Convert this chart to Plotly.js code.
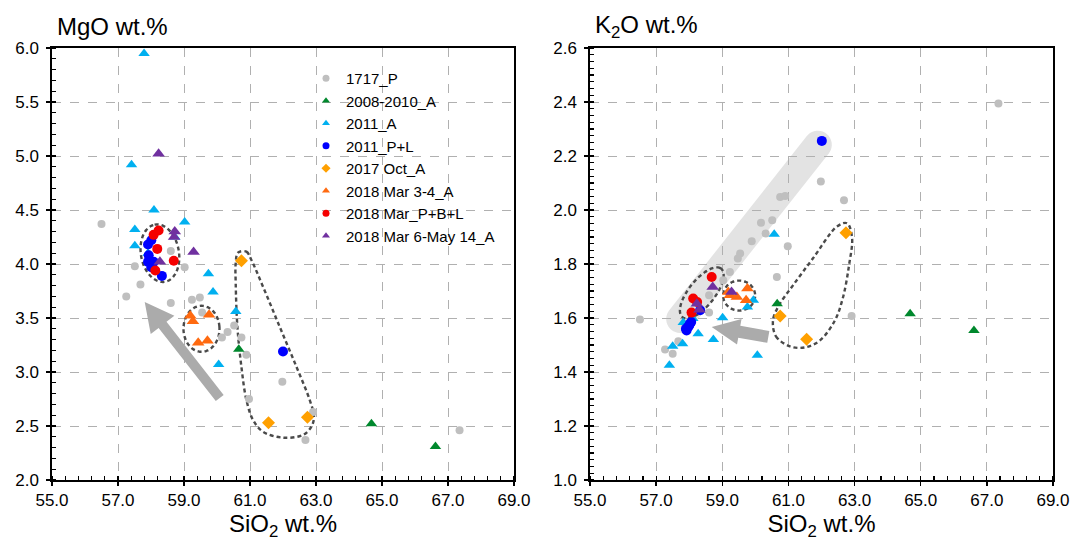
<!DOCTYPE html>
<html>
<head>
<meta charset="utf-8">
<script src="https://cdn.plot.ly/plotly-3.0.1.min.js"></script>
<style>html,body{margin:0;padding:0;background:#fff;}#chart{width:1070px;height:548px;}</style>
</head>
<body>
<div id="chart"></div>
<script>
// ---------- Series names ----------
const seriesNames = ['1717_P','2008-2010_A','2011_A','2011_P+L','2017 Oct_A','2018 Mar 3-4_A','2018 Mar_P+B+L','2018 Mar 6-May 14_A'];

// ---------- Left panel: MgO vs SiO2 ----------
const p1717_si_mgo = [56.50,57.25,57.51,57.68,58.60,58.60,59.02,59.24,59.48,59.55,60.15,60.32,60.52,60.74,60.89,60.97,61.98,62.68,62.91,67.35];
const p1717_mgo    = [4.37,3.70,3.98,3.81,4.12,3.64,3.97,3.67,3.69,3.55,3.32,3.37,3.43,3.32,3.16,2.75,2.91,2.37,2.63,2.46];
const a0810_si_mgo = [60.66,64.68,66.62];
const a0810_mgo    = [3.21,2.52,2.31];
const a2011_si_mgo = [57.79,57.41,58.09,59.02,57.51,57.51,57.91,58.72,59.74,59.88,60.57,60.05];
const a2011_mgo    = [5.95,4.92,4.50,4.39,4.32,4.17,4.10,4.25,3.91,3.74,3.56,3.07];
const pl2011_si_mgo = [58.01,57.91,57.93,57.91,58.08,58.01,58.33,62.00];
const pl2011_mgo    = [4.22,4.18,4.08,4.02,4.02,3.97,3.89,3.19];
const oct17_si_mgo = [60.74,61.56,62.74];
const oct17_mgo    = [4.03,2.53,2.58];
const mar34_si_mgo = [59.19,59.27,59.76,59.43,59.71];
const mar34_mgo    = [3.52,3.47,3.53,3.27,3.29];
const marPBL_si_mgo = [58.23,58.08,58.19,58.69,58.13];
const marPBL_mgo    = [4.31,4.27,4.14,4.03,3.94];
const mar6may_si_mgo = [58.23,58.72,58.70,59.29,58.27];
const mar6may_mgo    = [5.02,4.30,4.25,4.11,4.02];

// ---------- Right panel: K2O vs SiO2 ----------
const p1717_si_k2o = [56.51,57.27,57.50,57.67,58.60,58.60,59.03,59.23,59.47,59.54,59.89,60.17,60.31,60.51,60.65,60.75,60.90,60.98,61.98,62.68,62.91,67.35];
const p1717_k2o    = [1.594,1.483,1.468,1.514,1.620,1.684,1.740,1.770,1.820,1.839,1.884,1.953,1.913,1.962,1.752,2.048,2.052,1.866,2.106,2.036,1.607,2.394];
const a0810_si_k2o = [60.66,64.68,66.61];
const a0810_k2o    = [1.653,1.616,1.554];
const a2011_si_k2o = [60.57,59.01,58.27,58.73,57.80,57.50,57.40,60.06,59.76,59.94,57.82,58.11];
const a2011_k2o    = [1.910,1.601,1.542,1.520,1.505,1.495,1.425,1.462,1.641,1.666,1.583,1.598];
const pl2011_si_k2o = [57.92,57.97,58.02,57.90,58.06,58.00,58.33,62.01];
const pl2011_k2o    = [1.554,1.567,1.579,1.560,1.585,1.572,1.629,2.256];
const oct17_si_k2o = [60.75,61.55,62.74];
const oct17_k2o    = [1.607,1.521,1.916];
const mar34_si_k2o = [59.18,59.23,59.44,59.76,59.72];
const mar34_k2o    = [1.696,1.684,1.678,1.709,1.666];
const marPBL_si_k2o = [58.68,58.12,58.24,58.07];
const marPBL_k2o    = [1.752,1.672,1.659,1.620];
const mar6may_si_k2o = [58.71,59.28,58.23,58.31];
const mar6may_k2o    = [1.715,1.696,1.653,1.631];

// ---------- Hand-drawn outlines (data units) ----------
const loopL_x = [60.636,60.891,61.042,61.394,61.900,62.406,62.809,62.939,62.861,62.606,62.000,61.394,61.091,60.891,60.739,60.618,60.567,60.567,60.636];
const loopL_y = [4.105,4.114,4.037,3.790,3.419,3.049,2.741,2.586,2.494,2.417,2.392,2.447,2.556,2.741,3.049,3.419,3.821,4.006,4.105];
const loopR_x = [60.534,60.624,61.048,61.502,61.955,62.409,62.651,62.832,62.923,62.772,62.469,61.743,61.138,60.715,60.534];
const loopR_y = [1.592,1.532,1.495,1.491,1.517,1.592,1.677,1.795,1.899,1.951,1.939,1.821,1.721,1.647,1.592];

// ---------- Geometry helpers ----------
const W = 1070, H = 548, MT = 48, MB = 68;
const dom1 = [52/W, 514/W], dom2 = [590/W, 1053/W];
const rX1 = [55,69], rY1 = [2,6], rX2 = [55,69], rY2 = [1,2.6];
const plotH = H - MT - MB;
const sx1 = (dom1[1]-dom1[0])*W/(rX1[1]-rX1[0]), sy1 = plotH/(rY1[1]-rY1[0]);
const sx2 = (dom2[1]-dom2[0])*W/(rX2[1]-rX2[0]), sy2 = plotH/(rY2[1]-rY2[0]);

function ellipse(cx, cy, a, b, angDeg, sx, sy){
  const t = angDeg*Math.PI/180, xs=[], ys=[];
  for(let i=0;i<=72;i++){
    const u = i/72*2*Math.PI;
    const dx = a*Math.cos(u), dy = b*Math.sin(u);
    xs.push(cx + (dx*Math.cos(t) - dy*Math.sin(t))/sx);
    ys.push(cy + (dx*Math.sin(t) + dy*Math.cos(t))/sy);
  }
  return {x:xs, y:ys};
}
function stadiumPath(cx, cy, halfLen, r, angDeg, sx, sy){
  const t = angDeg*Math.PI/180, L = halfLen - r;
  const ux = Math.cos(t), uy = Math.sin(t), nx = -uy, ny = ux;
  const pts = [];
  for(let i=0;i<=20;i++){ const a = -Math.PI/2 + Math.PI*i/20;
    pts.push([L*ux + r*(Math.cos(a)*ux + Math.sin(a)*nx), L*uy + r*(Math.cos(a)*uy + Math.sin(a)*ny)]); }
  for(let i=0;i<=20;i++){ const a = Math.PI/2 + Math.PI*i/20;
    pts.push([-L*ux + r*(Math.cos(a)*ux + Math.sin(a)*nx), -L*uy + r*(Math.cos(a)*uy + Math.sin(a)*ny)]); }
  return 'M' + pts.map(p => (cx + p[0]/sx).toFixed(4) + ',' + (cy + p[1]/sy).toFixed(4)).join(' L') + ' Z';
}
function arrowPath(tail, tip, shaftHalf, headLen, headHalf, sx, sy){
  const tx = tail[0]*sx, ty = tail[1]*sy, px = tip[0]*sx, py = tip[1]*sy;
  const dx = px - tx, dy = py - ty, len = Math.hypot(dx, dy);
  const ux = dx/len, uy = dy/len, nx = -uy, ny = ux;
  const bx = px - headLen*ux, by = py - headLen*uy;
  const P = [[tx+shaftHalf*nx, ty+shaftHalf*ny],[bx+shaftHalf*nx, by+shaftHalf*ny],[bx+headHalf*nx, by+headHalf*ny],[px,py],
             [bx-headHalf*nx, by-headHalf*ny],[bx-shaftHalf*nx, by-shaftHalf*ny],[tx-shaftHalf*nx, ty-shaftHalf*ny]];
  return 'M' + P.map(p => (p[0]/sx).toFixed(4) + ',' + (p[1]/sy).toFixed(4)).join(' L') + ' Z';
}

// ---------- Styles ----------
const styles = [
  {color:'#bfbfbf', symbol:'circle', size:8},
  {color:'#00882d', symbol:'triangle-up', size:10},
  {color:'#00b0f0', symbol:'triangle-up', size:10},
  {color:'#0000ff', symbol:'circle', size:10},
  {color:'#ffa000', symbol:'diamond', size:10},
  {color:'#ff6a10', symbol:'triangle-up', size:11},
  {color:'#f50000', symbol:'circle', size:10},
  {color:'#7030a0', symbol:'triangle-up', size:11}
];

const leftData = [[p1717_si_mgo,p1717_mgo],[a0810_si_mgo,a0810_mgo],[a2011_si_mgo,a2011_mgo],[pl2011_si_mgo,pl2011_mgo],
                  [oct17_si_mgo,oct17_mgo],[mar34_si_mgo,mar34_mgo],[marPBL_si_mgo,marPBL_mgo],[mar6may_si_mgo,mar6may_mgo]];
const rightData = [[p1717_si_k2o,p1717_k2o],[a0810_si_k2o,a0810_k2o],[a2011_si_k2o,a2011_k2o],[pl2011_si_k2o,pl2011_k2o],
                  [oct17_si_k2o,oct17_k2o],[mar34_si_k2o,mar34_k2o],[marPBL_si_k2o,marPBL_k2o],[mar6may_si_k2o,mar6may_k2o]];

const outline = {color:'#4a4a4a', width:2.4, dash:'4px,3px'};
const traces = [];
const eL1 = ellipse(58.27, 4.10, 29, 19, 100, sx1, sy1);
const eL2 = ellipse(59.53, 3.40, 18, 23, 0, sx1, sy1);
const eR1 = ellipse(58.38, 1.693, 31, 13, 51.3, sx2, sy2);
const eR2 = ellipse(59.51, 1.683, 16, 15, 0, sx2, sy2);
[[eL1,'x','y'],[eL2,'x','y'],[{x:loopL_x,y:loopL_y},'x','y'],[eR1,'x2','y2'],[eR2,'x2','y2'],[{x:loopR_x,y:loopR_y},'x2','y2']].forEach(o=>{
  traces.push({type:'scatter', mode:'lines', x:o[0].x, y:o[0].y, xaxis:o[1], yaxis:o[2],
    line:Object.assign({shape:'spline', smoothing:1}, outline), showlegend:false, hoverinfo:'skip'});
});
seriesNames.forEach((name,i)=>{
  const s = styles[i];
  traces.push({type:'scatter', mode:'markers', name:name, x:leftData[i][0], y:leftData[i][1], xaxis:'x', yaxis:'y',
    marker:{color:s.color, symbol:s.symbol, size:s.size, line:{width:0}}, showlegend:false});
  traces.push({type:'scatter', mode:'markers', name:name, x:rightData[i][0], y:rightData[i][1], xaxis:'x2', yaxis:'y2',
    marker:{color:s.color, symbol:s.symbol, size:s.size, line:{width:0}}, showlegend:false});
});
seriesNames.forEach((name,i)=>{
  const s = styles[i];
  traces.push({type:'scatter', mode:'markers', name:name, x:[null], y:[null], xaxis:'x', yaxis:'y',
    marker:{color:s.color, symbol:s.symbol, size:7}, showlegend:true});
});

const font = 'Liberation Sans, Arial, Helvetica, sans-serif';
function xAx(domain, anchor){
  return {domain:domain, anchor:anchor, range:[55,69], tick0:55, dtick:2, tickformat:'.1f',
    showgrid:true, gridcolor:'#b0b0b0', griddash:'dash', gridwidth:1, zeroline:false,
    showline:true, mirror:true, linecolor:'#000', linewidth:1.6,
    ticks:'outside', ticklen:4, tickwidth:1.4, tickcolor:'#000', tickfont:{size:17, color:'#000'},
    ticklabeloverflow:'allow',
    minor:{tick0:55, dtick:0.4, ticks:'inside', ticklen:4, tickwidth:1.2, tickcolor:'#000', showgrid:false},
    title:{text:'SiO<sub>2</sub> wt.%', font:{size:24, color:'#000'}, standoff:6}, fixedrange:true};
}
function yAx(range, dtick, minor, anchor){
  return {domain:[0,1], anchor:anchor, range:range, tick0:range[0], dtick:dtick, tickformat:'.1f',
    showgrid:true, gridcolor:'#b0b0b0', griddash:'dash', gridwidth:1, zeroline:false,
    showline:true, mirror:true, linecolor:'#000', linewidth:1.6,
    ticks:'outside', ticklen:4, tickwidth:1.4, tickcolor:'#000', tickfont:{size:17, color:'#000'}, ticklabelstandoff:4,
    ticklabeloverflow:'allow',
    minor:{tick0:range[0], dtick:minor, ticks:'inside', ticklen:4, tickwidth:1.2, tickcolor:'#000', showgrid:false}, fixedrange:true};
}

const layout = {
  width:W, height:H, margin:{l:0, r:0, t:MT, b:MB, pad:0},
  paper_bgcolor:'#fff', plot_bgcolor:'#fff',
  font:{family:font, color:'#000'},
  xaxis: xAx(dom1,'y'), yaxis: yAx(rY1, 0.5, 0.1, 'x'),
  xaxis2: xAx(dom2,'y2'), yaxis2: yAx(rY2, 0.2, 0.025, 'x2'),
  showlegend:true,
  legend:{x:306/W, y:(480-62)/plotH, xanchor:'left', yanchor:'top', bgcolor:'rgba(0,0,0,0)', borderwidth:0,
          font:{size:15, color:'#000', family:font}, traceorder:'normal', itemwidth:30},
  annotations:[
    {xref:'paper', yref:'paper', x:55/W, y:1 + (48-26)/plotH, xanchor:'left', yanchor:'middle', showarrow:false,
     text:'MgO wt.%', font:{size:24, color:'#000'}},
    {xref:'paper', yref:'paper', x:593/W, y:1 + (48-26)/plotH, xanchor:'left', yanchor:'middle', showarrow:false,
     text:'K<sub>2</sub>O wt.%', font:{size:24, color:'#000'}}
  ],
  shapes:[
    {type:'path', xref:'x2', yref:'y2', layer:'below', path:stadiumPath(59.808, 1.919, 125, 14, 51.7, sx2, sy2),
     fillcolor:'#e3e3e3', line:{width:0}},
    {type:'path', xref:'x', yref:'y', layer:'above', path:arrowPath([60.082, 2.759], [57.809, 3.648], 5, 29, 15, sx1, sy1),
     fillcolor:'#ababab', line:{width:0}},
    {type:'path', xref:'x2', yref:'y2', layer:'above', path:arrowPath([60.392, 1.530], [58.680, 1.567], 6, 28, 13, sx2, sy2),
     fillcolor:'#ababab', line:{width:0}}
  ]
};

Plotly.newPlot('chart', traces, layout, {staticPlot:true, displayModeBar:false});
</script>
</body>
</html>
